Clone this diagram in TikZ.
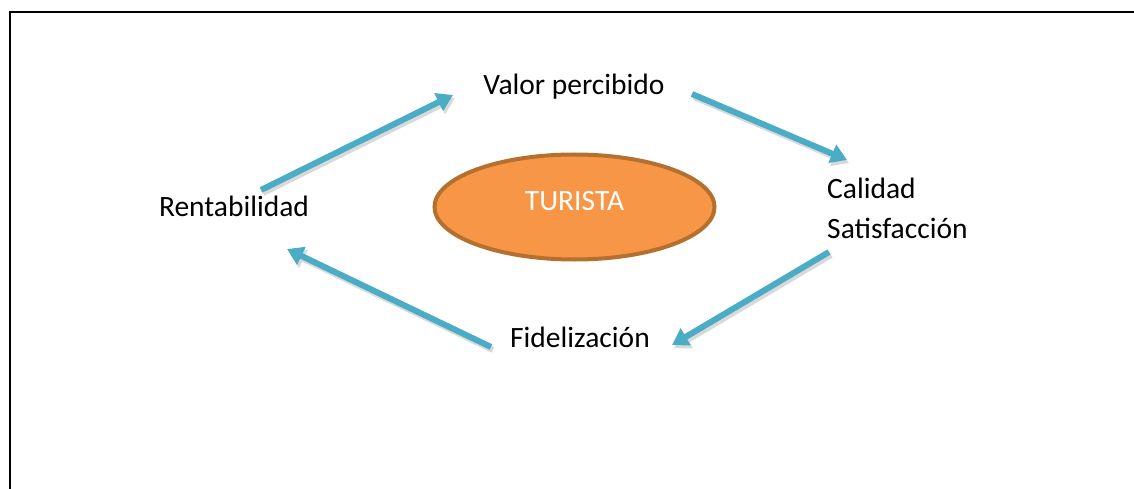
\documentclass[tikz,border=0pt]{standalone}
\usepackage{fontspec}
\setmainfont{Carlito}
\usetikzlibrary{arrows.meta,shapes.geometric}
\definecolor{aqua}{HTML}{4BACC6}
\definecolor{orangefill}{HTML}{F79646}
\definecolor{orangeline}{HTML}{B5702F}
\tikzset{
  lbl/.style={font=\fontsize{29.5}{40}\selectfont, inner sep=0pt, text=black},
  flow/.style={draw=aqua, line width=6pt, -{Triangle[length=16pt,width=19pt]}},
  flowshadow/.style={draw=black!15, line width=6pt, -{Triangle[length=16pt,width=19pt]}},
}
\begin{document}
\begin{tikzpicture}[x=1pt,y=-1pt]
\useasboundingbox (0,0) rectangle (1134,489);
% frame (top and left only visible)
\draw[line width=2.4pt, black] (10,489) -- (10,12) -- (1134,12);

\node[ellipse, draw=orangeline, line width=4pt, fill=orangefill,
      minimum width=280pt, minimum height=105pt, inner sep=0pt] (tur) at (574.5,207) {};
\node[lbl, text=white, anchor=base] (turt) at (574.5,211) {TURISTA};

\node[lbl, anchor=base] (valor) at (574,95) {Valor percibido};
\node[lbl, anchor=base] (rent) at (234,216) {Rentabilidad};
\node[lbl, anchor=base west, align=left] (cal) at (827,238) {Calidad\\Satisfacción};
\node[lbl, anchor=base] (fide) at (580,347) {Fidelización};

\coordinate (a1s) at (261,190); \coordinate (a1e) at (453,95);
\coordinate (a2s) at (692,94);  \coordinate (a2e) at (847,160);
\coordinate (a3s) at (829,252); \coordinate (a3e) at (672,345);
\coordinate (a4s) at (491,347); \coordinate (a4e) at (287,249);

\foreach \s/\e in {a1s/a1e,a2s/a2e,a3s/a3e,a4s/a4e}{
  \draw[flowshadow] ([shift={(2,3)}]\s) -- ([shift={(2,3)}]\e);
}
\draw[flow] (a1s) -- (a1e);
\draw[flow] (a2s) -- (a2e);
\draw[flow] (a3s) -- (a3e);
\draw[flow] (a4s) -- (a4e);
\end{tikzpicture}
\end{document}
